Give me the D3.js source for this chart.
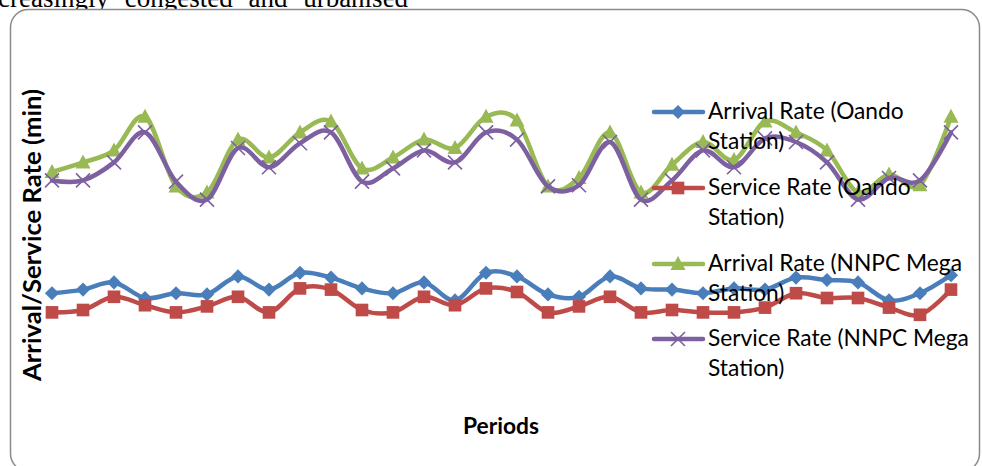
<!DOCTYPE html>
<html>
<head>
<meta charset="utf-8">
<script src="https://cdn.jsdelivr.net/npm/d3@7"></script>
<style>
  html, body { margin: 0; padding: 0; background: #fff; overflow: hidden; }
  svg { display: block; }
</style>
</head>
<body>
<svg></svg>
<script>
// periods along the x axis (no tick labels are shown)
let periods = [1, 2, 3, 4, 5, 6, 7, 8, 9, 10, 11, 12, 13, 14, 15, 16, 17, 18, 19, 20, 21, 22, 23, 24, 25, 26, 27, 28, 29, 30]

// rates in minutes
let arrivalOando = [8.9, 9.2, 9.8, 8.5, 8.9, 8.8, 10.3, 9.2, 10.6, 10.2, 9.3, 8.9, 9.8, 8.3, 10.6, 10.3, 8.8, 8.6, 10.3, 9.3, 9.2, 8.9, 9.3, 9.2, 10.2, 10.0, 9.8, 8.3, 8.9, 10.4]
let serviceOando = [7.3, 7.5, 8.6, 7.9, 7.3, 7.8, 8.6, 7.3, 9.3, 9.2, 7.5, 7.3, 8.6, 7.9, 9.3, 9.0, 7.3, 7.8, 8.6, 7.3, 7.5, 7.3, 7.3, 7.7, 8.9, 8.5, 8.5, 7.7, 7.1, 9.2]
let arrivalNNPC = [19.0, 19.8, 20.8, 23.6, 17.8, 17.3, 21.7, 20.2, 22.3, 23.2, 19.3, 20.2, 21.7, 21.0, 23.6, 23.3, 17.8, 18.5, 22.3, 17.3, 19.6, 21.5, 20.0, 23.2, 22.3, 20.8, 17.3, 18.8, 17.9, 23.6]
let serviceNNPC = [18.3, 18.3, 19.8, 22.3, 18.2, 16.7, 21.0, 19.4, 21.4, 22.3, 18.2, 19.3, 20.8, 19.8, 22.3, 21.7, 17.8, 17.9, 21.5, 16.7, 18.3, 20.8, 19.4, 21.8, 21.5, 19.8, 16.7, 18.5, 18.3, 22.3]

let seriesNames = [
    ["Arrival Rate (Oando", "Station)"],
    ["Service Rate (Oando", "Station)"],
    ["Arrival Rate (NNPC Mega", "Station)"],
    ["Service Rate (NNPC Mega", "Station)"]
]

let width = 982
let height = 466

let svg = d3.select("svg")
    .attr("width", width)
    .attr("height", height)

// sets a font size so the text gets the wanted length
let fitText = (sel, target) => {
    let fs = parseFloat(sel.style("font-size"))
    let len = sel.node().getComputedTextLength()
    sel.style("font-size", (fs * target / len).toFixed(2) + "px")
}

// text of the page above the chart, cut off at the top
svg.append("text")
    .attr("x", -2)
    .attr("y", 7)
    .style("font-family", "'Liberation Serif', 'DejaVu Serif', serif")
    .style("font-size", "27px")
    .style("word-spacing", "9px")
    .attr("fill", "#000")
    .text("creasingly congested and urbanised")

// chart frame
svg.append("rect")
    .attr("x", 10.5)
    .attr("y", 9.5)
    .attr("width", 969)
    .attr("height", 462)
    .attr("rx", 18)
    .attr("fill", "#fff")
    .attr("stroke", "#8a8a8a")
    .attr("stroke-width", 1.5)

let xScale = d3.scaleLinear()
    .domain([1, 30])
    .range([52, 951])

let yScale = d3.scaleLinear()
    .domain([0, 30])
    .range([400, 40])

let series = [
    { values: arrivalOando, color: "#4a7ebb", marker: "diamond" },
    { values: serviceOando, color: "#be4b48", marker: "square" },
    { values: arrivalNNPC, color: "#98b954", marker: "triangle" },
    { values: serviceNNPC, color: "#7d60a0", marker: "cross" }
]

let line = d3.line()
    .x((d, i) => xScale(periods[i]))
    .y(d => yScale(d))
    .curve(d3.curveCatmullRom.alpha(0))

let drawMarker = (g, type, color) => {
    if (type == "diamond") {
        g.append("path")
            .attr("d", d3.symbol(d3.symbolSquare, 100)())
            .attr("transform", "rotate(45)")
            .attr("fill", color)
    } else if (type == "square") {
        g.append("path")
            .attr("d", d3.symbol(d3.symbolSquare, 160)())
            .attr("fill", color)
    } else if (type == "triangle") {
        g.append("path")
            .attr("d", "M0,-8L7.5,6L-7.5,6Z")
            .attr("fill", color)
    } else {
        g.append("path")
            .attr("d", "M-7,-7L7,7M-7,7L7,-7")
            .attr("stroke", color)
            .attr("stroke-width", 1.6)
            .attr("fill", "none")
    }
}

series.forEach(s => {
    let g = svg.append("g")
    g.append("path")
        .datum(s.values)
        .attr("d", line)
        .attr("fill", "none")
        .attr("stroke", s.color)
        .attr("stroke-width", 4.5)
        .attr("stroke-linejoin", "round")
        .attr("stroke-linecap", "round")
    s.values.forEach((v, i) => {
        let m = g.append("g")
            .attr("transform", "translate(" + xScale(periods[i]) + "," + yScale(v) + ")")
        drawMarker(m, s.marker, s.color)
    })
})

// axis titles
let yTitle = svg.append("text")
    .attr("transform", "translate(41, 235) rotate(-90)")
    .attr("text-anchor", "middle")
    .style("font-family", "Lato, 'Liberation Sans', sans-serif")
    .style("font-weight", "bold")
    .style("font-size", "20px")
    .text("Arrival/Service Rate (min)")
fitText(yTitle, 292)

let xTitle = svg.append("text")
    .attr("x", 501)
    .attr("y", 434)
    .attr("text-anchor", "middle")
    .style("font-family", "Lato, 'Liberation Sans', sans-serif")
    .style("font-weight", "bold")
    .style("font-size", "20px")
    .text("Periods")
fitText(xTitle, 76)

// legend
let legendY = [112, 188, 264, 339]
let legendSize
series.forEach((s, i) => {
    let lg = svg.append("g")
        .attr("transform", "translate(0," + legendY[i] + ")")
    lg.append("line")
        .attr("x1", 654)
        .attr("x2", 703)
        .attr("stroke", s.color)
        .attr("stroke-width", 4.5)
        .attr("stroke-linecap", "round")
    let m = lg.append("g").attr("transform", "translate(678,0)")
    drawMarker(m, s.marker, s.color)
    let t1 = lg.append("text")
        .attr("x", 708)
        .attr("y", 7)
        .style("font-family", "Lato, 'Liberation Sans', sans-serif")
        .style("font-size", "20px")
        .text(seriesNames[i][0])
    if (legendSize == null) {
        // size taken from the longest label
        let probe = lg.append("text")
            .style("font-family", "Lato, 'Liberation Sans', sans-serif")
            .style("font-size", "20px")
            .text("Arrival Rate (NNPC Mega")
        fitText(probe, 254)
        legendSize = probe.style("font-size")
        probe.remove()
    }
    t1.style("font-size", legendSize)
    lg.append("text")
        .attr("x", 708)
        .attr("y", 37)
        .style("font-family", "Lato, 'Liberation Sans', sans-serif")
        .style("font-size", legendSize)
        .text(seriesNames[i][1])
})
</script>
</body>
</html>
